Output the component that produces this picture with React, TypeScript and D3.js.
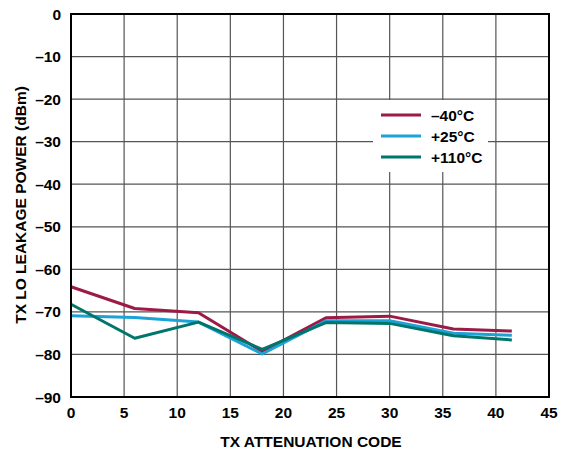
import React from "react";
import * as d3 from "d3";

const codes = [0, 6, 12, 18, 24, 30, 36, 41.5];
const seriesM40 = [-64.1, -69.2, -70.2, -79.3, -71.4, -71.0, -74.0, -74.5];
const series25 = [-70.9, -71.3, -72.4, -79.9, -72.1, -72.1, -75.0, -75.5];
const series110 = [-68.2, -76.2, -72.4, -78.8, -72.5, -72.7, -75.6, -76.6];
const seriesNames = ["–40°C", "+25°C", "+110°C"];
const seriesColors = ["#9c1a46", "#1ba3d8", "#00756c"];
const xTicks = [0, 5, 10, 15, 20, 25, 30, 35, 40, 45];
const yTicks = [0, -10, -20, -30, -40, -50, -60, -70, -80, -90];

export default function App() {
  const W = 574, H = 453;
  const left = 71, right = 549, top = 14, bottom = 397;
  const x = d3.scaleLinear().domain([0, 45]).range([left, right]);
  const y = d3.scaleLinear().domain([0, -90]).range([top, bottom]);
  const line = d3.line<number>().x((_, i) => x(codes[i])).y((d) => y(d));
  const all = [seriesM40, series25, series110];
  const font = "Liberation Sans, Arial, sans-serif";
  const fs = 15.5;
  return (
    <svg width={W} height={H} style={{ position: "absolute", left: 0, top: 0 }} fontFamily={font}>
      <rect x={0} y={0} width={W} height={H} fill="#fff" />
      {xTicks.slice(1, -1).map((t) => (
        <line key={"gx" + t} x1={x(t)} x2={x(t)} y1={top} y2={bottom} stroke="#555" strokeWidth={1.2} />
      ))}
      {yTicks.slice(1, -1).map((t) => (
        <line key={"gy" + t} x1={left} x2={right} y1={y(t)} y2={y(t)} stroke="#555" strokeWidth={1.2} />
      ))}
      <rect x={373} y={100} width={115} height={72} fill="#fff" />
      {all.map((s, i) => (
        <path key={i} d={line(s) || ""} fill="none" stroke={seriesColors[i]} strokeWidth={3} strokeLinejoin="round" />
      ))}
      <rect x={left} y={top} width={right - left} height={bottom - top} fill="none" stroke="#000" strokeWidth={2} />
      {xTicks.map((t) => (
        <text key={"tx" + t} x={x(t)} y={418} textAnchor="middle" fontSize={fs} fontWeight="bold">{t}</text>
      ))}
      {yTicks.map((t) => (
        <text key={"ty" + t} x={61} y={y(t) + 5.5} textAnchor="end" fontSize={fs} fontWeight="bold">{t === 0 ? "0" : "–" + Math.abs(t)}</text>
      ))}
      <text x={311} y={447} textAnchor="middle" fontSize={fs} fontWeight="bold">TX ATTENUATION CODE</text>
      <text transform={`translate(26,205) rotate(-90)`} textAnchor="middle" fontSize={fs} fontWeight="bold">TX LO LEAKAGE POWER (dBm)</text>
      {seriesNames.map((n, i) => (
        <g key={n}>
          <line x1={381} x2={421} y1={115 + i * 21} y2={115 + i * 21} stroke={seriesColors[i]} strokeWidth={3} />
          <text x={431} y={115 + i * 21 + 5.5} fontSize={fs} fontWeight="bold">{n}</text>
        </g>
      ))}
    </svg>
  );
}
